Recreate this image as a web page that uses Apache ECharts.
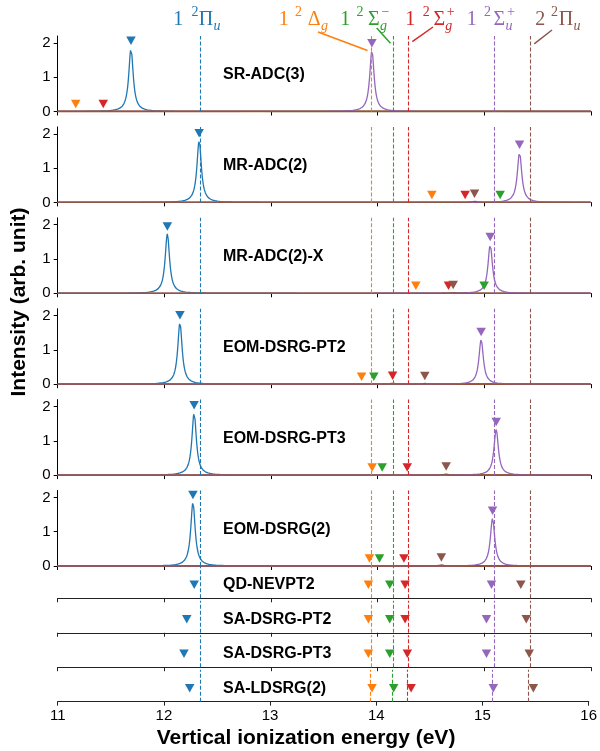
<!DOCTYPE html>
<html><head><meta charset="utf-8">
<script src="https://cdn.jsdelivr.net/npm/echarts@6/dist/echarts.min.js"></script>
<style>html,body{margin:0;padding:0;background:#fff}#c{width:600px;height:751px}</style>
</head><body><div id="c"></div><script>
// ---------------- data ----------------
const stateNames = ['1 ²Πu', '1 ²Δg', '1 ²Σg−', '1 ²Σg+', '1 ²Σu+', '2 ²Πu'];
const stateColors = ['#1f77b4', '#ff7f0e', '#2ca02c', '#d62728', '#9467bd', '#8c564b'];
const referenceEnergies = [12.34, 13.935, 14.15, 14.29, 15.09, 15.43];

const spectraMethods = ['SR-ADC(3)', 'MR-ADC(2)', 'MR-ADC(2)-X', 'EOM-DSRG-PT2', 'EOM-DSRG-PT3', 'EOM-DSRG(2)'];
// energies (eV) and peak intensities per state, in the order of stateNames (null = not shown)
const srAdc3Energies = [11.687, 11.169, null, 11.427, 13.946, null];
const srAdc3Intensities = [1.84, 0.0, null, 0.0, 1.77, null];
const mrAdc2Energies = [12.326, 14.508, 15.148, 14.82, 15.33, 14.908];
const mrAdc2Intensities = [1.80, 0.0, 0.0, 0.0, 1.46, 0.03];
const mrAdc2xEnergies = [12.028, 14.358, 14.998, 14.664, 15.055, 14.708];
const mrAdc2xIntensities = [1.73, 0.0, 0.0, 0.0, 1.42, 0.02];
const eomDsrgPt2Energies = [12.146, 13.849, 13.964, 14.14, 14.97, 14.442];
const eomDsrgPt2Intensities = [1.79, 0.0, 0.0, 0.03, 1.30, 0.02];
const eomDsrgPt3Energies = [12.279, 13.948, 14.042, 14.277, 15.111, 14.642];
const eomDsrgPt3Intensities = [1.82, 0.0, 0.0, 0.0, 1.33, 0.03];
const eomDsrg2Energies = [12.268, 13.923, 14.017, 14.246, 15.077, 14.597];
const eomDsrg2Intensities = [1.85, 0.0, 0.0, 0.0, 1.39, 0.03];

const levelMethods = ['QD-NEVPT2', 'SA-DSRG-PT2', 'SA-DSRG-PT3', 'SA-LDSRG(2)'];
const qdNevpt2Energies = [12.28, 13.913, 14.113, 14.257, 15.067, 15.342];
const saDsrgPt2Energies = [12.21, 13.913, 14.113, 14.257, 15.02, 15.393];
const saDsrgPt3Energies = [12.184, 13.913, 14.113, 14.278, 15.02, 15.421];
const saLdsrg2Energies = [12.243, 13.96, 14.164, 14.328, 15.102, 15.479];

const xTickValues = [11, 12, 13, 14, 15, 16];
const yTickValues = [0, 1, 2];
const broadeningHWHM = 0.025; // Lorentzian half width (eV) used to draw the stick spectra

// ---------------- chart construction ----------------
const specEnergies = [srAdc3Energies, mrAdc2Energies, mrAdc2xEnergies, eomDsrgPt2Energies, eomDsrgPt3Energies, eomDsrg2Energies];
const specIntensities = [srAdc3Intensities, mrAdc2Intensities, mrAdc2xIntensities, eomDsrgPt2Intensities, eomDsrgPt3Intensities, eomDsrg2Intensities];
const levelEnergies = [qdNevpt2Energies, saDsrgPt2Energies, saDsrgPt3Energies, saLdsrg2Energies];

const plotLeft = 57.7, plotWidth = 533.3;
const specBottom0 = 111.5, specStep = 90.9, specHeight = 75.5;
const levelBottom0 = 598.3, levelStep = 34.45, levelHeight = 32;
const levelRow = 0.42;
const tri = 'path://M0,0L10,0L5,9Z';

function broadened(E0, I) {
  if (E0 == null) return [[11, 0], [16, 0]];
  const xs = [];
  for (let k = 0; k <= 2000; k++) xs.push(11 + k * 0.0025);
  xs.push(E0);
  xs.sort((a, b) => a - b);
  const g2 = broadeningHWHM * broadeningHWHM;
  return xs.map(x => [x, I * g2 / ((x - E0) * (x - E0) + g2)]);
}

const refLines = {
  silent: true, symbol: ['none', 'none'], label: { show: false }, animation: false,
  emphasis: { disabled: true },
  data: referenceEnergies.map((e, k) => ({ xAxis: e, lineStyle: { color: stateColors[k], type: [4, 2], width: 1.1, opacity: 1 } }))
};

const grids = [], xAxes = [], yAxes = [], series = [], graphics = [];
const axisColor = '#000';

for (let i = 0; i < 6; i++) {
  const bottom = specBottom0 + specStep * i;
  grids.push({ left: plotLeft, width: plotWidth, top: bottom - specHeight, height: specHeight });
  xAxes.push({
    gridIndex: i, type: 'value', min: 11, max: 16, interval: 1,
    axisLine: { lineStyle: { color: axisColor, width: 1 } },
    axisTick: { length: 4, lineStyle: { color: axisColor } },
    axisLabel: { show: false }, splitLine: { show: false }
  });
  yAxes.push({
    gridIndex: i, type: 'value', min: 0, max: 2.2,
    axisLine: { show: true, lineStyle: { color: axisColor, width: 1 } },
    axisTick: { show: true, length: 4, customValues: yTickValues, lineStyle: { color: axisColor } },
    axisLabel: { customValues: yTickValues, fontSize: 15, color: '#000', margin: 7, fontFamily: 'Liberation Sans' },
    splitLine: { show: false }
  });
  for (let k = 0; k < 6; k++) {
    const s = {
      type: 'line', xAxisIndex: i, yAxisIndex: i, showSymbol: false, silent: true, animation: false,
      data: broadened(specEnergies[i][k], specIntensities[i][k]),
      lineStyle: { color: stateColors[k], width: 1.3 }, z: 2
    };
    if (k === 0) s.markLine = refLines;
    series.push(s);
  }
  const pts = [];
  for (let k = 0; k < 6; k++) {
    if (specEnergies[i][k] == null) continue;
    pts.push({ value: [specEnergies[i][k], specIntensities[i][k]], itemStyle: { color: stateColors[k], opacity: 1 } });
  }
  series.push({
    type: 'scatter', xAxisIndex: i, yAxisIndex: i, symbol: tri, symbolSize: [9.5, 8.5],
    symbolOffset: [0, -7.5], data: pts, silent: true, animation: false, z: 5,
    itemStyle: { opacity: 1 }
  });
  graphics.push({
    type: 'text', x: 223, y: bottom - 36.5,
    style: { text: spectraMethods[i], font: 'bold 16px "Liberation Sans"', fill: '#000', align: 'left', verticalAlign: 'middle' }
  });
}

for (let j = 0; j < 4; j++) {
  const gi = 6 + j;
  const bottom = levelBottom0 + levelStep * j;
  grids.push({ left: plotLeft, width: plotWidth, top: bottom - levelHeight, height: levelHeight });
  xAxes.push({
    gridIndex: gi, type: 'value', min: 11, max: 16, interval: 1,
    axisLine: { lineStyle: { color: '#222', width: 1.2 } },
    axisTick: { length: 4, lineStyle: { color: '#222' } },
    axisLabel: { show: j === 3, fontSize: 15, color: '#000', margin: 7, fontFamily: 'Liberation Sans' },
    splitLine: { show: false }
  });
  yAxes.push({ gridIndex: gi, type: 'value', min: 0, max: 1, show: false });
  series.push({
    type: 'scatter', xAxisIndex: gi, yAxisIndex: gi, symbol: tri, symbolSize: [9.5, 8.5],
    data: levelEnergies[j].map((e, k) => ({ value: [e, levelRow], itemStyle: { color: stateColors[k], opacity: 1 } })),
    markLine: refLines, silent: true, animation: false, z: 5, itemStyle: { opacity: 1 }
  });
  graphics.push({
    type: 'text', x: 223, y: bottom - 13.4,
    style: { text: levelMethods[j], font: 'bold 16px "Liberation Sans"', fill: '#000', align: 'left', verticalAlign: 'middle' }
  });
}

// axis titles
graphics.push({
  type: 'text', x: 19.5, y: 302, rotation: Math.PI / 2,
  style: { text: 'Intensity (arb. unit)', font: 'bold 21px "Liberation Sans"', fill: '#000', align: 'center', verticalAlign: 'middle' }
});
graphics.push({
  type: 'text', x: 306, y: 738,
  style: { text: 'Vertical ionization energy (eV)', font: 'bold 21px "Liberation Sans"', fill: '#000', align: 'center', verticalAlign: 'middle' }
});

// state labels (math-like text pieces)
const measureCtx = document.createElement('canvas').getContext('2d');
function textWidth(t, font) { measureCtx.font = font; return measureCtx.measureText(t).width; }
const mainFont = '20px "Liberation Serif"', smallSize = 14;
const mainY = 19.3, supY = 12.0, subY = 26.0, signY = 12.0;
function piece(t, x, y, font, color, align) {
  graphics.push({
    type: 'text', x: x, y: y,
    style: { text: t, font: font, fill: color, align: align, verticalAlign: 'middle' }
  });
}
const labelPieces = [
  // [state index, lead digit centre x, sup centre x, nucleus, nucleus centre x, sub, sign]
  [0, 178.3, 195.0, 'Π', 206.0, 'u', null],
  [1, 283.7, 298.5, 'Δ', 314.2, 'g', null],
  [2, 345.3, 360.0, 'Σ', 373.8, 'g', '−'],
  [3, 410.3, 426.3, 'Σ', 439.2, 'g', '+'],
  [4, 471.7, 487.5, 'Σ', 499.4, 'u', '+'],
  [5, 540.3, 554.5, 'Π', 566.0, 'u', null]
];
labelPieces.forEach(p => {
  const c = stateColors[p[0]];
  piece(stateNames[p[0]].charAt(0), p[1], mainY, mainFont, c, 'center');
  piece('2', p[2], supY, smallSize + 'px "Liberation Serif"', c, 'center');
  piece(p[3], p[4], mainY, mainFont, c, 'center');
  const right = p[4] + textWidth(p[3], mainFont) / 2;
  piece(p[5], right + 0.3, subY, 'italic ' + smallSize + 'px "Liberation Serif"', c, 'left');
  if (p[6]) piece(p[6], right + 1.8, signY, smallSize + 'px "Liberation Serif"', c, 'left');
});
// leader lines
const leaders = [
  [1, 318.0, 32.0, 367.5, 50.5],
  [2, 376.7, 28.0, 390.5, 43.3],
  [3, 433.0, 27.0, 412.3, 41.7],
  [5, 552.0, 30.0, 534.2, 43.8]
];
leaders.forEach(l => graphics.push({
  type: 'line', shape: { x1: l[1], y1: l[2], x2: l[3], y2: l[4] },
  style: { stroke: stateColors[l[0]], lineWidth: 1.5 }, silent: true
}));

const chart = echarts.init(document.getElementById('c'));
chart.setOption({
  animation: false,
  backgroundColor: '#fff',
  grid: grids, xAxis: xAxes, yAxis: yAxes, series: series, graphic: graphics
});
</script></body></html>
